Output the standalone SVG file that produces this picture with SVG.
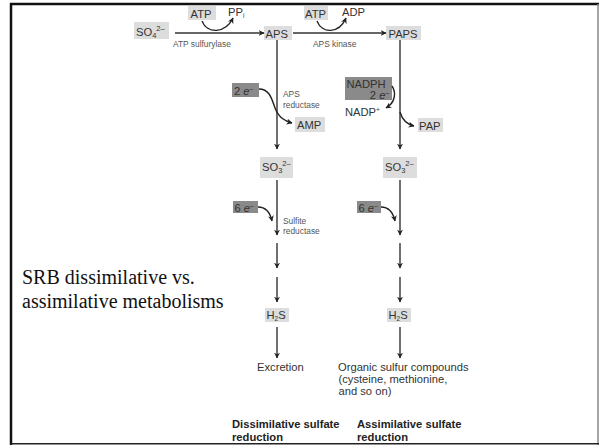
<svg xmlns="http://www.w3.org/2000/svg" width="600" height="445" viewBox="0 0 600 445">
<defs>
<marker id="ah" viewBox="0 0 10 10" refX="9" refY="5" markerWidth="6" markerHeight="6" orient="auto" markerUnits="userSpaceOnUse">
<path d="M0,0 L10,5 L0,10 L3,5 z" fill="#222"/>
</marker>
<style>
.lb{fill:#ddd}
.dk{fill:#8a8a8a}
.t{font-family:"Liberation Sans",Arial,sans-serif;font-size:11.2px;fill:#333}
.s{font-family:"Liberation Sans",Arial,sans-serif;font-size:8.4px;fill:#555}
.b{font-family:"Liberation Sans",Arial,sans-serif;font-size:11.2px;font-weight:bold;fill:#222}
.ln{stroke:#333;stroke-width:1.4;fill:none}
.cv{stroke:#222;stroke-width:1.4;fill:none}
.ti{font-family:"Liberation Serif","Times New Roman",serif;font-size:20px;fill:#111}
</style>
</defs>
<rect width="600" height="445" fill="#fff"/>
<g id="frame">
<line x1="10" y1="4" x2="599" y2="4" stroke="#111" stroke-width="2.5"/>
<line x1="11" y1="3" x2="11" y2="445" stroke="#111" stroke-width="2.5"/>
<line x1="598" y1="4" x2="598" y2="445" stroke="#888" stroke-width="1.5"/>
<line x1="10" y1="443.8" x2="599" y2="443.8" stroke="#222" stroke-width="1.6"/>
</g>
<g id="title"><text class="ti" x="22" y="284">SRB dissimilative vs.</text><text class="ti" x="22" y="308">assimilative metabolisms</text></g>

<g id="so4"><rect class="lb" x="134" y="22" width="35" height="17"/><text class="t" x="136" y="36">SO<tspan font-size="7.5" dy="2">4</tspan><tspan font-size="7.5" dy="-7">2–</tspan></text></g>
<g id="atp1"><rect class="lb" x="188" y="6" width="28" height="14"/><text class="t" x="190.5" y="17.5">ATP</text></g>
<g id="ppi"><text class="t" x="228" y="16">PP<tspan font-size="6.5" dy="2">i</tspan></text></g>
<g id="aps"><rect class="lb" x="264" y="26" width="28" height="14"/><text class="t" x="265.5" y="37.5">APS</text></g>
<g id="atp2"><rect class="lb" x="304" y="6" width="24" height="14"/><text class="t" x="305" y="17.5">ATP</text></g>
<g id="adp"><text class="t" x="342" y="16">ADP</text></g>
<g id="paps"><rect class="lb" x="386" y="26" width="35" height="14"/><text class="t" x="388.5" y="37.5">PAPS</text></g>
<g id="lbl1"><text class="s" x="173" y="47">ATP sulfurylase</text><text class="s" x="313" y="47">APS kinase</text></g>

<g id="e2"><rect class="dk" x="232" y="83" width="27" height="14"/><text class="t" x="234" y="94.5" fill="#222">2 <tspan font-style="italic">e</tspan><tspan font-size="6.5" dy="-4">–</tspan></text></g>
<g id="apsred"><text class="s" x="283" y="97">APS</text><text class="s" x="283" y="108">reductase</text></g>
<g id="amp"><rect class="lb" x="295" y="117" width="30" height="15"/><text class="t" x="297" y="128.5">AMP</text></g>
<g id="nadph"><rect class="dk" x="345" y="77" width="47" height="23"/><text class="t" x="346.5" y="87.5" font-size="10.6" fill="#222">NADPH</text><text class="t" x="389" y="99" font-size="10.6" text-anchor="end" fill="#222">2 <tspan font-style="italic">e</tspan><tspan font-size="6.5" dy="-4">–</tspan></text></g>
<g id="nadp"><text class="t" x="345" y="116">NADP<tspan font-size="6.5" dy="-4">+</tspan></text></g>
<g id="pap"><rect class="lb" x="418" y="118" width="25" height="14"/><text class="t" x="419" y="129.5">PAP</text></g>

<g id="so3a"><rect class="lb" x="260" y="157" width="33" height="21"/><text class="t" x="262" y="171">SO<tspan font-size="7.5" dy="2">3</tspan><tspan font-size="7.5" dy="-7">2–</tspan></text></g>
<g id="so3b"><rect class="lb" x="383" y="157" width="34" height="21"/><text class="t" x="385" y="171">SO<tspan font-size="7.5" dy="2">3</tspan><tspan font-size="7.5" dy="-7">2–</tspan></text></g>
<g id="e6a"><rect class="dk" x="233" y="201" width="25" height="12"/><text class="t" x="234.5" y="211.5" fill="#222">6 <tspan font-style="italic">e</tspan><tspan font-size="6.5" dy="-4">–</tspan></text></g>
<g id="e6b"><rect class="dk" x="357" y="201" width="24" height="12"/><text class="t" x="358.5" y="211.5" fill="#222">6 <tspan font-style="italic">e</tspan><tspan font-size="6.5" dy="-4">–</tspan></text></g>
<g id="sulfred"><text class="s" x="283" y="224">Sulfite</text><text class="s" x="283" y="234">reductase</text></g>
<g id="h2sa"><rect class="lb" x="265" y="308" width="24" height="14"/><text class="t" x="266.5" y="319">H<tspan font-size="6.5" dy="2">2</tspan><tspan dy="-2">S</tspan></text></g>
<g id="h2sb"><rect class="lb" x="387" y="308" width="24" height="14"/><text class="t" x="388.5" y="319">H<tspan font-size="6.5" dy="2">2</tspan><tspan dy="-2">S</tspan></text></g>
<g id="excr"><text class="t" x="257" y="370.5">Excretion</text></g>
<g id="org"><text class="t" x="338" y="370.5">Organic sulfur compounds</text><text class="t" x="338.5" y="382.5">(cysteine, methionine,</text><text class="t" x="338.5" y="394.5">and so on)</text></g>
<g id="hdr"><text class="b" x="232" y="428">Dissimilative sulfate</text><text class="b" x="232" y="440.5">reduction</text><text class="b" x="357" y="428">Assimilative sulfate</text><text class="b" x="357" y="440.5">reduction</text></g>

<g id="connectors">
<line class="ln" x1="175" y1="33" x2="264" y2="33" marker-end="url(#ah)"/>
<line class="ln" x1="293" y1="33" x2="386" y2="33" marker-end="url(#ah)"/>
<path class="cv" d="M202,21 C207,34 225,34 233,18" marker-end="url(#ah)"/>
<path class="cv" d="M317,21 C322,34 339,34 346,18" marker-end="url(#ah)"/>
<line class="ln" x1="277" y1="40" x2="277" y2="149" marker-end="url(#ah)"/>
<line class="ln" x1="400" y1="40" x2="400" y2="149" marker-end="url(#ah)"/>
<path class="cv" d="M259,89 C270,89 272,100 275,108 C279,118 285,121 292,123" marker-end="url(#ah)"/>
<path class="cv" d="M392,86 C396,92 396,102 386,108" marker-end="url(#ah)"/>
<path class="cv" d="M400,112 C402,119 406,124 414,126" marker-end="url(#ah)"/>
<line class="ln" x1="277" y1="180" x2="277" y2="235" marker-end="url(#ah)"/>
<line class="ln" x1="400" y1="180" x2="400" y2="235" marker-end="url(#ah)"/>
<path class="cv" d="M258,207 C266,207 270,212 272,221" marker-end="url(#ah)"/>
<path class="cv" d="M381,207 C389,207 393,212 395,221" marker-end="url(#ah)"/>
<line class="ln" x1="277" y1="243" x2="277" y2="268" marker-end="url(#ah)"/>
<line class="ln" x1="400" y1="243" x2="400" y2="268" marker-end="url(#ah)"/>
<line class="ln" x1="277" y1="277" x2="277" y2="302" marker-end="url(#ah)"/>
<line class="ln" x1="400" y1="277" x2="400" y2="302" marker-end="url(#ah)"/>
<line class="ln" x1="277" y1="327" x2="277" y2="358" marker-end="url(#ah)"/>
<line class="ln" x1="400" y1="327" x2="400" y2="358" marker-end="url(#ah)"/>
</g>
</svg>
